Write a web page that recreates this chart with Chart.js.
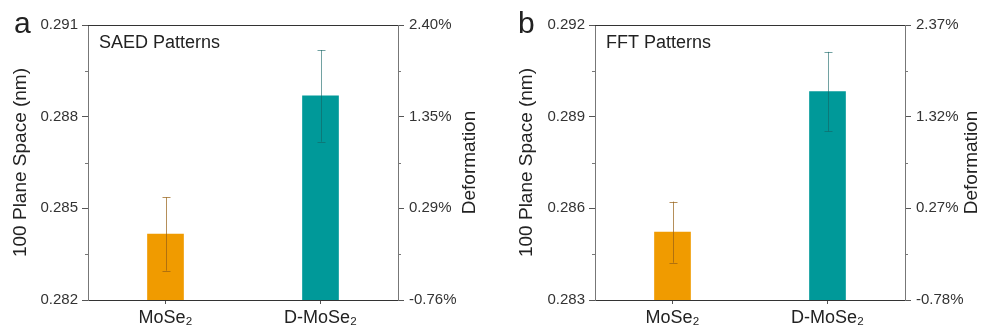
<!DOCTYPE html>
<html>
<head>
<meta charset="utf-8">
<script src="https://cdn.jsdelivr.net/npm/chart.js@4.4.1/dist/chart.umd.min.js"></script>
<style>
    body { margin: 0; background: #fff; }
    #wrap { position: relative; width: 987px; height: 332px; }
    canvas { position: absolute; top: 0; }
</style>
</head>
<body>
<div id="wrap">
    <canvas id="chartA" width="493" height="332" style="left:0"></canvas>
    <canvas id="chartB" width="494" height="332" style="left:493px"></canvas>
</div>
<script>
const FONT = '"Liberation Sans", Arial, sans-serif';

const categories = ['MoSe\u2082', 'D-MoSe\u2082'];

// panel a - SAED
const saedValues = [0.28416, 0.28868];
const saedErrors = [0.0012, 0.0015];
const saedLeftTicks = [0.282, 0.285, 0.288, 0.291];
const saedRightLabels = ['-0.76%', '0.29%', '1.35%', '2.40%'];

// panel b - FFT
const fftValues = [0.28522, 0.28982];
const fftErrors = [0.0010, 0.0013];
const fftLeftTicks = [0.283, 0.286, 0.289, 0.292];
const fftRightLabels = ['-0.78%', '0.27%', '1.32%', '2.37%'];

const barColors = ['rgb(240, 155, 0)', 'rgb(0, 153, 153)'];
const errColors = ['rgba(150, 95, 20, 0.7)', 'rgba(20, 100, 100, 0.6)'];

const panelDecor = {
    id: 'panelDecor',
    afterDatasetsDraw(chart, args, opts) {
        const { ctx, chartArea: area, scales } = chart;
        const y = scales.y;
        ctx.save();

        // top frame line
        ctx.strokeStyle = '#333';
        ctx.lineWidth = 1;
        ctx.beginPath();
        ctx.moveTo(area.left, Math.round(area.top) + 0.5);
        ctx.lineTo(area.right, Math.round(area.top) + 0.5);
        ctx.stroke();

        // minor ticks half way between the major ones
        ctx.strokeStyle = '#777';
        const t = y.ticks.map(tk => tk.value);
        for (let i = 0; i < t.length - 1; i++) {
            const py = Math.round(y.getPixelForValue((t[i] + t[i + 1]) / 2)) + 0.5;
            ctx.beginPath();
            ctx.moveTo(area.left - 3, py); ctx.lineTo(area.left, py);
            ctx.moveTo(area.right, py); ctx.lineTo(area.right + 3, py);
            ctx.stroke();
        }

        // error bars
        const meta = chart.getDatasetMeta(0);
        meta.data.forEach((bar, i) => {
            const v = opts.values[i];
            const e = opts.errors[i];
            const x = Math.round(bar.x) + 0.5;
            const top = y.getPixelForValue(v + e);
            const bot = y.getPixelForValue(v - e);
            ctx.strokeStyle = errColors[i];
            ctx.lineWidth = 1;
            ctx.beginPath();
            ctx.moveTo(x, top); ctx.lineTo(x, bot);
            ctx.moveTo(x - 4, Math.round(top) + 0.5); ctx.lineTo(x + 4, Math.round(top) + 0.5);
            ctx.moveTo(x - 4, Math.round(bot) + 0.5); ctx.lineTo(x + 4, Math.round(bot) + 0.5);
            ctx.stroke();
        });

        // texts
        ctx.fillStyle = '#222';
        ctx.textAlign = 'left';
        ctx.textBaseline = 'alphabetic';
        ctx.font = '30px ' + FONT;
        ctx.fillText(opts.letter, area.left - opts.letterOffset, 33);

        ctx.font = '18px ' + FONT;
        ctx.textBaseline = 'middle';
        ctx.fillText(opts.title, area.left + 11, 43);

        const midY = (area.top + area.bottom) / 2;
        ctx.font = '19px ' + FONT;
        ctx.textAlign = 'center';
        ctx.save();
        ctx.translate(area.left - opts.leftTitleOffset, midY);
        ctx.rotate(-Math.PI / 2);
        ctx.fillText('100 Plane Space (nm)', 0, 0);
        ctx.restore();
        ctx.save();
        ctx.translate(area.right + opts.rightTitleOffset, midY);
        ctx.rotate(-Math.PI / 2);
        ctx.fillText('Deformation', 0, 0);
        ctx.restore();

        ctx.restore();
    }
};

function drawPanel(canvasId, p) {
    const config = {
        type: 'bar',
        data: {
            labels: categories,
            datasets: [{
                data: p.values,
                backgroundColor: barColors,
                borderWidth: 0,
                barThickness: 36
            }]
        },
        options: {
            responsive: false,
            animation: false,
            layout: { padding: { top: 25, bottom: 0, left: 0, right: 0 } },
            plugins: {
                legend: { display: false },
                tooltip: { enabled: false },
                panelDecor: p
            },
            scales: {
                x: {
                    grid: { drawOnChartArea: false, offset: false, tickLength: 4, tickColor: '#555' },
                    border: { color: '#333', width: 1 },
                    ticks: { font: { family: FONT, size: 18 }, color: '#222', padding: 3, maxRotation: 0 },
                    afterFit: s => { s.height = 32; }
                },
                y: {
                    position: 'left',
                    min: p.leftTicks[0],
                    max: p.leftTicks[p.leftTicks.length - 1],
                    afterBuildTicks: s => { s.ticks = p.leftTicks.map(v => ({ value: v })); },
                    grid: { drawOnChartArea: false, tickLength: 6, tickColor: '#555' },
                    border: { color: '#777', width: 1 },
                    ticks: {
                        font: { family: FONT, size: 15 }, color: '#333', padding: 4,
                        callback: v => Number(v).toFixed(3)
                    },
                    afterFit: s => { s.width = p.leftWidth; }
                },
                y2: {
                    position: 'right',
                    min: p.leftTicks[0],
                    max: p.leftTicks[p.leftTicks.length - 1],
                    afterBuildTicks: s => { s.ticks = p.leftTicks.map(v => ({ value: v })); },
                    grid: { drawOnChartArea: false, tickLength: 6, tickColor: '#555' },
                    border: { color: '#777', width: 1 },
                    ticks: {
                        font: { family: FONT, size: 15 }, color: '#333', padding: 5,
                        callback: (v, i) => p.rightLabels[i]
                    },
                    afterFit: s => { s.width = p.rightWidth; }
                }
            }
        },
        plugins: [panelDecor]
    };
    const ctx = document.getElementById(canvasId).getContext('2d');
    return new Chart(ctx, config);
}

drawPanel('chartA', {
    values: saedValues, errors: saedErrors,
    leftTicks: saedLeftTicks, rightLabels: saedRightLabels,
    leftWidth: 88, rightWidth: 95,
    letter: 'a', letterOffset: 74, title: 'SAED Patterns',
    leftTitleOffset: 67, rightTitleOffset: 72
});

drawPanel('chartB', {
    values: fftValues, errors: fftErrors,
    leftTicks: fftLeftTicks, rightLabels: fftRightLabels,
    leftWidth: 102, rightWidth: 82,
    letter: 'b', letterOffset: 77, title: 'FFT Patterns',
    leftTitleOffset: 68, rightTitleOffset: 67
});
</script>
</body>
</html>
